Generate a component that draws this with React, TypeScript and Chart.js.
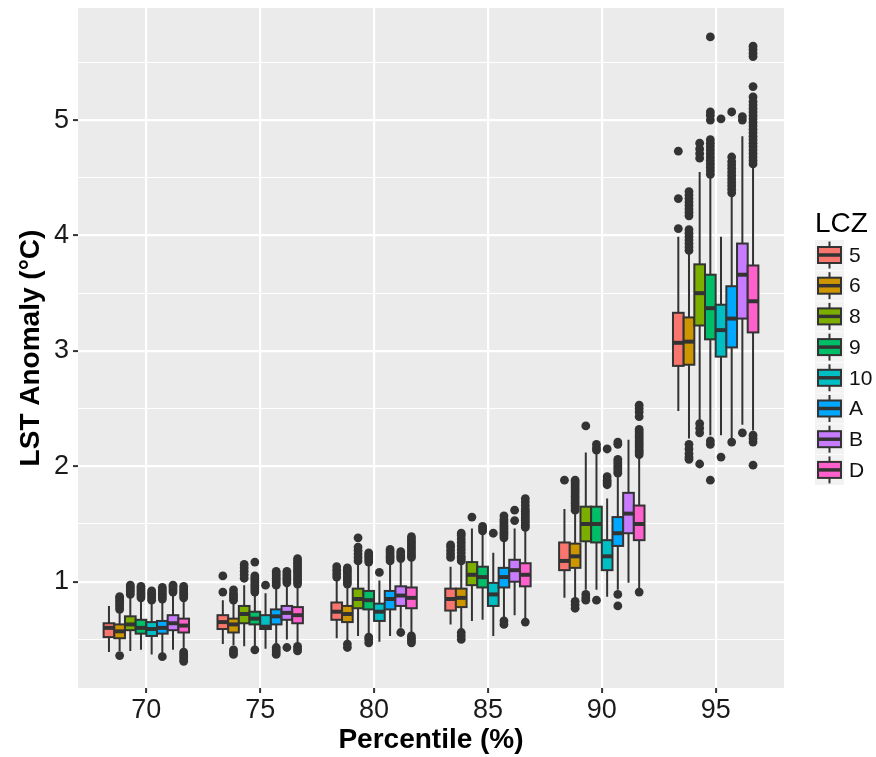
import { useEffect, useRef } from 'react';
import { Chart, registerables } from 'chart.js';

Chart.register(...registerables);

// ---- data ----
const percentiles = [70, 75, 80, 85, 90, 95];
const lczLabels = ['5', '6', '8', '9', '10', 'A', 'B', 'D'];
const lczColors = ['#F8766D', '#CD9600', '#7CAE00', '#00BE67', '#00BFC4', '#00A9FF', '#C77CFF', '#FF61CC'];
const yTickValues = [0.5, 1, 1.5, 2, 2.5, 3, 3.5, 4, 4.5, 5, 5.5];
const xTickValues = [70, 75, 80, 85, 90, 95];

// rows: LCZ (5,6,8,9,10,A,B,D); columns: percentile (70..95)
const whiskerLow = [
  [0.39, 0.46, 0.51, 0.63, 0.86, 2.48],
  [0.40, 0.45, 0.49, 0.59, 0.86, 2.24],
  [0.40, 0.44, 0.53, 0.66, 0.93, 2.40],
  [0.41, 0.44, 0.54, 0.67, 0.93, 2.27],
  [0.37, 0.42, 0.48, 0.53, 0.87, 2.27],
  [0.38, 0.45, 0.53, 0.68, 0.93, 2.23],
  [0.41, 0.50, 0.60, 0.71, 0.99, 2.36],
  [0.41, 0.46, 0.55, 0.68, 0.93, 2.31],
];
const q1 = [
  [0.52, 0.59, 0.67, 0.75, 1.10, 2.87],
  [0.51, 0.56, 0.65, 0.78, 1.12, 2.88],
  [0.58, 0.64, 0.77, 0.97, 1.35, 3.22],
  [0.55, 0.63, 0.76, 0.95, 1.34, 3.10],
  [0.53, 0.59, 0.66, 0.79, 1.10, 2.95],
  [0.55, 0.63, 0.76, 0.95, 1.31, 3.03],
  [0.58, 0.67, 0.79, 1.00, 1.42, 3.28],
  [0.56, 0.64, 0.77, 0.96, 1.36, 3.16],
];
const median = [
  [0.60, 0.65, 0.74, 0.85, 1.18, 3.07],
  [0.57, 0.63, 0.72, 0.86, 1.22, 3.08],
  [0.63, 0.72, 0.85, 1.06, 1.50, 3.50],
  [0.60, 0.68, 0.84, 1.04, 1.50, 3.37],
  [0.59, 0.61, 0.74, 0.89, 1.22, 3.18],
  [0.60, 0.70, 0.85, 1.04, 1.42, 3.28],
  [0.64, 0.73, 0.88, 1.10, 1.59, 3.66],
  [0.62, 0.71, 0.86, 1.06, 1.50, 3.43],
];
const q3 = [
  [0.64, 0.71, 0.82, 0.94, 1.34, 3.33],
  [0.63, 0.68, 0.79, 0.94, 1.33, 3.29],
  [0.70, 0.79, 0.94, 1.17, 1.65, 3.75],
  [0.67, 0.74, 0.92, 1.13, 1.65, 3.66],
  [0.65, 0.71, 0.81, 0.99, 1.36, 3.40],
  [0.66, 0.76, 0.92, 1.12, 1.56, 3.56],
  [0.71, 0.79, 0.96, 1.19, 1.77, 3.93],
  [0.68, 0.78, 0.95, 1.16, 1.66, 3.74],
];
const whiskerHigh = [
  [0.79, 0.84, 1.02, 1.13, 1.63, 3.99],
  [0.74, 0.82, 0.96, 1.16, 1.60, 3.85],
  [0.87, 0.97, 1.16, 1.46, 2.12, 4.55],
  [0.84, 0.89, 1.15, 1.42, 2.12, 4.51],
  [0.82, 0.90, 1.01, 1.25, 1.72, 3.99],
  [0.83, 0.95, 1.16, 1.36, 1.91, 4.35],
  [0.89, 0.96, 1.18, 1.46, 2.23, 4.86],
  [0.84, 0.96, 1.19, 1.45, 2.08, 4.60],
];

// outliers[LCZ][percentile]
const outliers: number[][][] = [
  // LCZ 5
  [
    [],
    [0.91, 1.05],
    [1.04, 1.07, 1.10, 1.13],
    [1.21, 1.24, 1.27, 1.30, 1.32],
    [1.88],
    [4.06, 4.32, 4.73],
  ],
  // LCZ 6
  [
    [0.36, 0.76, 0.78, 0.80, 0.82, 0.84, 0.86, 0.87],
    [0.41, 0.39, 0.37, 0.84, 0.86, 0.88, 0.90, 0.93],
    [0.46, 0.43, 0.98, 1.00, 1.02, 1.04, 1.06, 1.08, 1.10, 1.12],
    [0.56, 0.53, 0.50, 1.18, 1.20, 1.22, 1.25, 1.28, 1.31, 1.34, 1.37, 1.40, 1.42],
    [0.83, 0.80, 0.77, 1.62, 1.64, 1.66, 1.68, 1.70, 1.72, 1.74, 1.76, 1.78, 1.80, 1.82, 1.84, 1.86, 1.88],
    [2.19, 2.15, 2.11, 2.08, 2.06, 3.87, 3.90, 3.93, 3.96, 3.99, 4.02, 4.05, 4.17, 4.20, 4.23, 4.26, 4.29, 4.32, 4.35, 4.38],
  ],
  // LCZ 8
  [
    [0.89, 0.91, 0.93, 0.95, 0.97],
    [1.03, 1.06, 1.09, 1.12, 1.15],
    [1.18, 1.21, 1.24, 1.27, 1.30, 1.38],
    [1.56],
    [0.89, 0.86, 0.84, 2.35],
    [2.37, 2.33, 2.29, 2.02, 4.67, 4.71, 4.75, 4.80],
  ],
  // LCZ 9
  [
    [0.86, 0.88, 0.90, 0.92, 0.94, 0.96],
    [0.41, 0.91, 0.93, 0.95, 0.97, 0.99, 1.01, 1.03, 1.05, 1.17],
    [0.52, 0.50, 0.47, 1.17, 1.19, 1.21, 1.23, 1.25],
    [1.44, 1.46, 1.48],
    [0.84, 2.14, 2.16, 2.19],
    [2.22, 2.19, 1.88, 4.53, 4.56, 4.59, 4.62, 4.65, 4.68, 4.71, 4.74, 4.77, 4.80, 4.83, 5.00, 5.04, 5.07, 5.72],
  ],
  // LCZ 10
  [
    [0.84, 0.86, 0.88, 0.90, 0.92],
    [0.97],
    [1.08],
    [1.42],
    [1.84, 1.86, 1.88, 1.91, 2.15],
    [2.08, 5.01],
  ],
  // LCZ A
  [
    [0.35, 0.85, 0.87, 0.89, 0.91, 0.93, 0.95],
    [0.43, 0.41, 0.39, 0.37, 0.97, 0.99, 1.01, 1.03, 1.05, 1.07, 1.09],
    [1.18, 1.20, 1.22, 1.24, 1.26, 1.28],
    [0.66, 0.63, 1.38, 1.40, 1.42, 1.44, 1.46, 1.48, 1.50, 1.52, 1.54, 1.57],
    [0.89, 0.79, 1.94, 1.96, 1.98, 2.00, 2.02, 2.04, 2.06, 2.19, 2.21],
    [2.21, 4.37, 4.40, 4.43, 4.46, 4.49, 4.52, 4.55, 4.58, 4.61, 4.64, 4.68, 5.07],
  ],
  // LCZ B
  [
    [0.91, 0.93, 0.95, 0.97],
    [0.43, 0.99, 1.01, 1.03, 1.05, 1.07, 1.09],
    [0.56, 1.20, 1.22, 1.24, 1.26],
    [1.53, 1.62],
    [],
    [2.29, 5.00, 5.03],
  ],
  // LCZ D
  [
    [0.39, 0.37, 0.35, 0.33, 0.31, 0.86, 0.88, 0.90, 0.92, 0.94, 0.96],
    [0.44, 0.42, 0.40, 0.98, 1.00, 1.02, 1.04, 1.06, 1.08, 1.10, 1.12, 1.14, 1.16, 1.18, 1.20],
    [0.53, 0.51, 0.49, 0.47, 1.21, 1.23, 1.25, 1.27, 1.29, 1.31, 1.33, 1.35, 1.37, 1.39],
    [0.65, 1.47, 1.49, 1.51, 1.53, 1.55, 1.57, 1.59, 1.61, 1.63, 1.66, 1.69, 1.72],
    [0.91, 2.10, 2.12, 2.14, 2.16, 2.18, 2.20, 2.22, 2.24, 2.26, 2.28, 2.30, 2.32, 2.43, 2.47, 2.50, 2.53],
    [2.27, 2.24, 2.21, 2.01, 4.62, 4.65, 4.68, 4.71, 4.74, 4.77, 4.80, 4.83, 4.86, 4.89, 4.92, 4.95, 4.98, 5.01, 5.04, 5.07, 5.10, 5.13, 5.16, 5.20, 5.29, 5.55, 5.58, 5.61, 5.64],
  ],
];

// ---- layout / style ----
const FONT = '"Liberation Sans", Arial, sans-serif';
const DODGE = 0.46875; // percentile units between neighbouring boxes
const BOX_HALF = 0.234375;
const LINE = '#333333';

const bgPlugin = {
  id: 'panelBg',
  beforeDraw(chart: any) {
    const { ctx, chartArea } = chart;
    ctx.save();
    ctx.fillStyle = '#ffffff';
    ctx.fillRect(0, 0, chart.width, chart.height);
    ctx.fillStyle = '#EBEBEB';
    ctx.fillRect(chartArea.left, chartArea.top, chartArea.right - chartArea.left, chartArea.bottom - chartArea.top);
    ctx.restore();
  },
};

const boxPlugin = {
  id: 'boxes',
  afterDatasetsDraw(chart: any) {
    const { ctx, scales } = chart;
    const x = scales.x;
    const y = scales.y;
    ctx.save();
    lczLabels.forEach((_, i) => {
      percentiles.forEach((p, j) => {
        const xv = p + (i - 3.5) * DODGE;
        const cx = x.getPixelForValue(xv);
        const half = x.getPixelForValue(xv + BOX_HALF) - cx;
        const yLo = y.getPixelForValue(whiskerLow[i][j]);
        const yQ1 = y.getPixelForValue(q1[i][j]);
        const yMed = y.getPixelForValue(median[i][j]);
        const yQ3 = y.getPixelForValue(q3[i][j]);
        const yHi = y.getPixelForValue(whiskerHigh[i][j]);
        ctx.strokeStyle = LINE;
        ctx.lineWidth = 2;
        ctx.lineCap = 'butt';
        ctx.beginPath();
        ctx.moveTo(cx, yHi);
        ctx.lineTo(cx, yQ3);
        ctx.moveTo(cx, yQ1);
        ctx.lineTo(cx, yLo);
        ctx.stroke();
        ctx.fillStyle = lczColors[i];
        ctx.fillRect(cx - half, yQ3, 2 * half, yQ1 - yQ3);
        ctx.strokeRect(cx - half, yQ3, 2 * half, yQ1 - yQ3);
        ctx.lineWidth = 4;
        ctx.beginPath();
        ctx.moveTo(cx - half, yMed);
        ctx.lineTo(cx + half, yMed);
        ctx.stroke();
      });
    });
    ctx.restore();
  },
};

const legendPlugin = {
  id: 'boxLegend',
  afterDraw(chart: any) {
    const { ctx } = chart;
    ctx.save();
    ctx.fillStyle = '#000000';
    ctx.font = `28px ${FONT}`;
    ctx.textAlign = 'left';
    ctx.textBaseline = 'alphabetic';
    ctx.fillText('LCZ', 815, 232);
    lczLabels.forEach((lab, i) => {
      const cy = 255 + i * 30.7;
      ctx.fillStyle = '#F2F2F2';
      ctx.fillRect(815, cy - 15, 29, 30);
      ctx.strokeStyle = LINE;
      ctx.lineWidth = 2;
      ctx.beginPath();
      ctx.moveTo(829.5, cy - 13.5);
      ctx.lineTo(829.5, cy + 13.5);
      ctx.stroke();
      ctx.fillStyle = lczColors[i];
      ctx.fillRect(818, cy - 8, 23, 16);
      ctx.strokeRect(818, cy - 8, 23, 16);
      ctx.lineWidth = 3.5;
      ctx.beginPath();
      ctx.moveTo(818, cy);
      ctx.lineTo(841, cy);
      ctx.stroke();
      ctx.fillStyle = '#111111';
      ctx.font = `21px ${FONT}`;
      ctx.textBaseline = 'middle';
      ctx.fillText(lab, 849, cy + 1);
      ctx.textBaseline = 'alphabetic';
    });
    ctx.restore();
  },
};

export default function App() {
  const canvasRef = useRef<HTMLCanvasElement | null>(null);

  useEffect(() => {
    if (!canvasRef.current) return;
    const datasets = lczLabels.map((lab, i) => ({
      label: lab,
      data: percentiles.flatMap((p, j) =>
        outliers[i][j].map((v) => ({ x: p + (i - 3.5) * DODGE, y: v }))
      ),
      pointRadius: 4.4,
      pointBackgroundColor: LINE,
      pointBorderWidth: 0,
      pointHoverRadius: 4.4,
      showLine: false,
    }));

    const chart = new Chart(canvasRef.current, {
      type: 'scatter',
      data: { datasets },
      options: {
        animation: false,
        responsive: true,
        maintainAspectRatio: false,
        events: [],
        layout: { padding: { top: 8, right: 92, left: 0, bottom: 0 } },
        plugins: {
          legend: { display: false },
          tooltip: { enabled: false },
        },
        scales: {
          x: {
            type: 'linear',
            min: 67,
            max: 98,
            afterBuildTicks: (scale: any) => {
              scale.ticks = xTickValues.map((v) => ({ value: v }));
            },
            afterFit: (scale: any) => {
              scale.height = 69;
              scale.paddingLeft = 0;
              scale.paddingRight = 0;
            },
            border: { display: false },
            grid: {
              color: '#FFFFFF',
              lineWidth: 2.2,
              drawTicks: true,
              tickLength: 5,
              tickColor: LINE,
              tickWidth: 2,
            },
            ticks: {
              color: '#1a1a1a',
              font: { family: FONT, size: 27 },
              padding: 1,
              maxRotation: 0,
              autoSkip: false,
              callback: (v: any) => String(v),
            },
            title: {
              display: true,
              text: 'Percentile (%)',
              color: '#000000',
              font: { family: FONT, size: 28, weight: 'bold' },
              padding: { top: 0, bottom: 0 },
            },
          },
          y: {
            type: 'linear',
            min: 0.079,
            max: 5.971,
            afterBuildTicks: (scale: any) => {
              scale.ticks = yTickValues.map((v) => ({ value: v }));
            },
            afterFit: (scale: any) => {
              scale.width = 78;
              scale.paddingTop = 0;
              scale.paddingBottom = 0;
            },
            border: { display: false },
            grid: {
              color: '#FFFFFF',
              lineWidth: (ctx: any) => (Number.isInteger(ctx.tick?.value) ? 2.2 : 1.1),
              drawTicks: true,
              tickLength: 5,
              tickColor: (ctx: any) => (Number.isInteger(ctx.tick?.value) ? LINE : 'rgba(0,0,0,0)'),
              tickWidth: 2,
            },
            ticks: {
              color: '#1a1a1a',
              font: { family: FONT, size: 27 },
              padding: 4,
              autoSkip: false,
              callback: (v: any) => (Number.isInteger(v) ? String(v) : ''),
            },
            title: {
              display: true,
              text: 'LST Anomaly (°C)',
              color: '#000000',
              font: { family: FONT, size: 28, weight: 'bold' },
              padding: { top: 14, bottom: 0 },
            },
          },
        },
      },
      plugins: [bgPlugin, boxPlugin, legendPlugin],
    } as any);

    return () => chart.destroy();
  }, []);

  return (
    <div style={{ position: 'fixed', left: 0, top: 0, width: 876, height: 757, background: '#fff' }}>
      <canvas ref={canvasRef} />
    </div>
  );
}
